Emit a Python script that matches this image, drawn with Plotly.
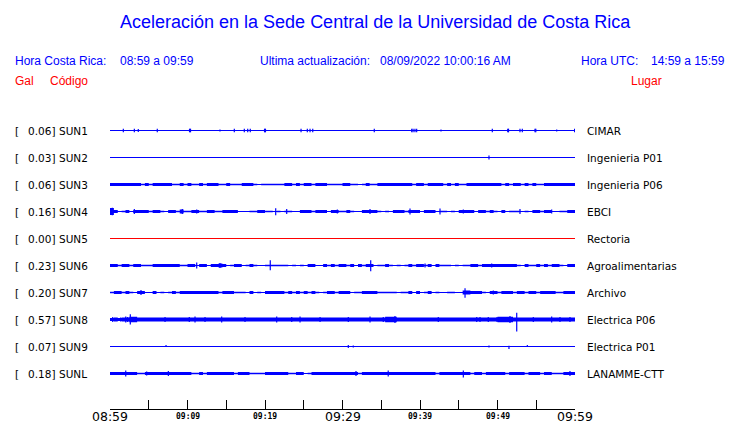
import plotly.graph_objects as go

# ---------------- text content ----------------
TITLE = "Aceleración en la Sede Central de la Universidad de Costa Rica"
HORA_CR_LABEL = "Hora Costa Rica:"
HORA_CR = "08:59 a 09:59"
UPDATE_LABEL = "Ultima actualización:"
UPDATE_VALUE = "08/09/2022 10:00:16 AM"
HORA_UTC_LABEL = "Hora UTC:"
HORA_UTC = "14:59 a 15:59"
COL_GAL = "Gal"
COL_CODE = "Código"
COL_PLACE = "Lugar"

CODES = ["SUN1", "SUN2", "SUN3", "SUN4", "SUN5", "SUN6", "SUN7", "SUN8", "SUN9", "SUNL"]
PLACES = ["CIMAR", "Ingenieria P01", "Ingenieria P06", "EBCI", "Rectoria",
          "Agroalimentarias", "Archivo", "Electrica P06", "Electrica P01", "LANAMME-CTT"]
PEAKS = ["0.06", "0.03", "0.06", "0.16", "0.00", "0.23", "0.20", "0.57", "0.07", "0.18"]
INACTIVE = ["SUN5"]

# x axis: minutes after 08:59
TICK_MINUTES = [0, 10, 20, 30, 40, 50, 60]
TICK_LABELS = ["08:59", "09:09", "09:19", "09:29", "09:39", "09:49", "09:59"]
MAJOR_LABELS = ["08:59", "09:29", "09:59"]
MINOR_TICK_STEP = 5
WINDOW_MIN = 60

# ---------------- signal envelopes (30 s bins, amplitude units) ----------------
BIN_MIN = 0.5
ENV_SUN3 = [2,2,2,2,2,2,2,2,1,2, 1,2,2,2,2,2,1,1,2,1, 2,1,1,2,1,2,2,2,1,1,
            2,1,1,1,2,2,2,1,0,1, 1,1,1,1,1,2,2,1,2,1, 2,2,1,2,2,2,1,1,1,1,
            2, 2,1,1,0,1,2,1,1,2, 2,2,2,2,2,2,2,2,1,2, 2,1,2,2,2,2,1,2,1,2,
            1,1,2,2,2,2,2,2,2,2, 2,1,2,1,2,2,1,2,1,2, 1,1,2,2,2,2,2,2,2,2]
ENV_SUN4 = [5,2,0,1,2,0,2,2,2,2, 1,2,2,1,0,2,2,1,3,1, 1,2,2,1,1,2,2,1,1,2,
            2,2,2,0,0,0,1,1,2,2, 1,1,0,1,0,1,1,0,0,2, 2,2,1,2,2,2,0,2,2,1,
            1, 2,1,0,0,2,2,2,2,1, 0,1,0,2,2,2,1,2,2,2, 0,2,2,2,0,1,1,0,1,0,
            2,2,2,2,0,2,2,1,2,1, 0,2,0,1,1,1,0,1,0,2, 2,1,2,2,0,0,1,1,2,2]
ENV_SUN6 = [2,2,1,2,2,1,2,2,1,1, 1,2,2,2,2,2,2,2,1,1, 2,2,0,2,2,0,2,2,3,2,
            0,1,2,2,0,1,2,1,0,0, 1,1,1,1,1,1,0,1,0,1, 0,2,2,0,0,2,1,2,1,2,
            2, 1,2,0,2,1,2,2,0,1, 1,2,1,0,1,0,1,2,1,2, 2,1,2,0,2,1,1,1,0,1,
            0,1,1,2,2,1,2,2,2,2, 2,2,2,2,2,1,0,2,1,1, 2,1,2,1,2,2,1,0,2,2]
ENV_SUN7 = [1,2,2,1,2,1,0,2,2,0, 0,2,0,1,0,1,2,1,2,2, 2,2,2,2,2,2,2,2,1,2,
            2,2,1,1,1,0,2,0,1,0, 2,2,2,2,2,1,2,1,2,1, 2,1,2,1,0,1,2,2,1,2,
            2, 2,0,1,1,2,2,2,2,1, 1,1,1,1,0,1,1,2,0,2, 0,1,2,0,1,0,0,1,1,0,
            0,3,3,2,2,2,1,0,2,2, 1,2,2,2,1,2,2,1,2,2, 1,2,2,2,2,1,1,2,2,2]
ENV_SUN8 = [2,3,2,3,3,4,4,3,3,3, 3,3,3,3,3,3,3,3,3,3, 3,3,3,3,3,3,3,3,3,3,
            3,3,3,3,3,3,3,3,3,3, 3,3,3,3,3,3,3,3,3,3, 3,3,3,3,3,3,3,3,3,3,
            3, 3,3,3,3,3,3,3,3,3, 3,4,4,4,3,3,3,3,3,3, 3,3,3,3,3,3,3,3,3,3,
            3,3,3,3,3,3,3,3,3,3, 4,4,4,4,3,3,3,3,3,3, 3,3,3,3,3,3,3,3,3,3]
ENV_SUNL = [2,2,2,2,2,2,2,1,1,2, 2,2,2,2,2,2,2,2,2,2, 2,1,1,2,1,2,2,2,2,2,
            2,2,1,2,2,2,1,1,1,1, 2,2,2,2,2,2,1,1,2,2, 0,1,2,2,2,2,2,2,2,2,
            2, 2,2,2,1,2,2,2,2,2, 2,2,2,2,2,2,2,2,2,2, 2,2,2,2,1,2,2,2,2,2,
            2,2,2,1,2,2,1,2,2,2, 2,2,1,2,2,2,2,1,2,2, 2,1,2,2,1,1,1,2,2,2]

# ---------------- isolated peaks: (minute, up, down) in amplitude units ----------------
SPIKES_SUN1 = [(1.72, 2.4, 2.4), (3.14, 2.4, 2.4), (3.65, 2.0, 2.0), (6.10, 2.4, 2.4),
               (10.26, 2.6, 2.6), (10.39, 2.6, 2.6), (14.19, 1.4, 1.4), (16.04, 2.4, 2.4),
               (17.33, 2.4, 2.4), (17.77, 2.4, 2.4), (18.10, 2.4, 2.4), (19.94, 2.6, 2.6),
               (20.06, 2.6, 2.6), (24.65, 2.4, 2.4), (25.46, 2.4, 2.4), (25.81, 2.4, 2.4),
               (26.16, 2.4, 2.4), (34.10, 2.4, 2.4), (38.93, 2.4, 2.4), (39.10, 2.4, 2.4),
               (39.35, 2.4, 2.4), (39.57, 2.4, 2.4), (42.71, 1.4, 1.4), (49.33, 2.4, 2.4),
               (51.32, 2.6, 2.6), (51.42, 2.6, 2.6), (52.90, 2.4, 2.4), (53.20, 2.4, 2.4),
               (54.84, 2.6, 2.6), (54.94, 2.6, 2.6), (57.64, 1.4, 1.4), (59.95, 2.4, 2.4)]
SPIKES_SUN2 = [(48.90, 3.0, 3.0)]
SPIKES_SUN3 = []
SPIKES_SUN4 = [(0.3, 5.5, 5.5), (3.14, 3.5, 3.5), (9.33, 3.5, 3.5), (11.19, 3.0, 3.0),
               (21.38, 4.5, 5.5), (22.80, 3.5, 3.5), (29.33, 3.0, 3.0), (33.55, 3.5, 3.5),
               (38.71, 4.3, 4.3), (42.58, 4.3, 4.3), (45.59, 3.0, 3.0), (52.90, 3.5, 3.5),
               (56.99, 3.0, 3.0)]
SPIKES_SUN5 = []
SPIKES_SUN6 = [(11.19, 4.3, 4.3), (14.19, 3.5, 3.5), (20.68, 7.6, 6.7), (33.64, 7.6, 8.1),
               (40.65, 3.0, 3.0), (49.25, 3.0, 3.0)]
SPIKES_SUN7 = [(4.00, 3.5, 3.5), (45.81, 6.2, 7.6), (49.46, 3.0, 3.0)]
SPIKES_SUN8 = [(0.35, 3.5, 3.5), (1.38, 3.0, 3.0), (2.03, 4.3, 4.3), (2.28, 3.5, 3.5),
               (2.62, 7.6, 7.1), (7.10, 3.5, 3.5), (10.23, 3.5, 3.5), (10.97, 4.3, 4.3),
               (12.26, 3.5, 3.5), (14.41, 4.3, 4.3), (17.42, 3.5, 3.5), (21.51, 4.3, 4.3),
               (23.45, 3.5, 3.5), (24.52, 4.3, 4.3), (27.10, 3.5, 3.5), (30.75, 3.5, 3.5),
               (33.55, 4.3, 4.3), (35.26, 3.5, 3.5), (36.13, 3.5, 3.5), (36.77, 5.0, 5.0),
               (42.36, 3.5, 3.5), (47.32, 3.5, 3.5), (47.74, 3.5, 3.5), (48.81, 3.5, 3.5),
               (49.94, 3.5, 3.5), (51.61, 5.0, 5.0), (52.48, 9.5, 17.0), (54.62, 3.5, 3.5),
               (56.99, 4.3, 4.3), (58.06, 3.5, 3.5), (59.35, 3.5, 3.5)]
SPIKES_SUN9 = [(7.23, 2.0, 0.0), (30.75, 2.0, 2.0), (31.39, 1.5, 1.5), (48.90, 1.5, 1.5),
               (51.48, 1.0, 3.5), (53.85, 2.0, 0.0)]
SPIKES_SUNL = [(2.03, 4.3, 4.3), (4.73, 3.0, 3.0), (7.53, 3.5, 3.5), (31.74, 3.5, 3.5),
               (35.90, 4.3, 4.3), (45.59, 4.3, 5.7), (59.35, 3.5, 3.5)]

ENVELOPES = {"SUN3": ENV_SUN3, "SUN4": ENV_SUN4, "SUN6": ENV_SUN6,
             "SUN7": ENV_SUN7, "SUN8": ENV_SUN8, "SUNL": ENV_SUNL}
SPIKES = {"SUN1": SPIKES_SUN1, "SUN2": SPIKES_SUN2, "SUN3": SPIKES_SUN3, "SUN4": SPIKES_SUN4,
          "SUN5": SPIKES_SUN5, "SUN6": SPIKES_SUN6, "SUN7": SPIKES_SUN7, "SUN8": SPIKES_SUN8,
          "SUN9": SPIKES_SUN9, "SUNL": SPIKES_SUNL}

# ---------------- layout geometry ----------------
W, H = 740, 423
PLOT_L, PLOT_R, PLOT_T, PLOT_B = 110, 575, 100, 409
ROW_PX = 27.0
AMP_PX = 0.7                      # screen px per amplitude unit
UNIT = AMP_PX / ROW_PX            # amplitude unit in row units
Y_TOP = -(130.5 - PLOT_T) / ROW_PX
Y_BOT = Y_TOP + (PLOT_B - PLOT_T) / ROW_PX

BLUE = "#0000ff"
RED = "#ff0000"
HEAD_FONT = "Liberation Sans, Arial, sans-serif"
LBL_FONT = "DejaVu Sans, sans-serif"


def px_x(px):
    return (px - PLOT_L) / (PLOT_R - PLOT_L)


def px_y(py):
    return (PLOT_B - py) / (PLOT_B - PLOT_T)


fig = go.Figure()

for i, code in enumerate(CODES):
    color = RED if code in INACTIVE else BLUE
    # baseline
    fig.add_trace(go.Scatter(x=[0, WINDOW_MIN], y=[i, i], mode="lines",
                             line=dict(color=color, width=1), hoverinfo="skip"))
    env = ENVELOPES.get(code)
    if env:
        xs, ys = [], []
        for k, a in enumerate(env):
            x0 = k * BIN_MIN
            h = a * UNIT
            xs += [x0, x0 + BIN_MIN]
            ys += [i - h, i - h]
        for k in range(len(env) - 1, -1, -1):
            x0 = k * BIN_MIN
            h = env[k] * UNIT
            xs += [x0 + BIN_MIN, x0]
            ys += [i + h, i + h]
        xs.append(xs[0])
        ys.append(ys[0])
        fig.add_trace(go.Scatter(x=xs, y=ys, mode="lines", fill="toself",
                                 fillcolor=color,
                                 line=dict(color=color, width=0, simplify=False),
                                 hoverinfo="skip"))
    sp = SPIKES.get(code, [])
    if sp:
        xs, ys = [], []
        for t, up, dn in sp:
            xs += [t, t, None]
            ys += [i - up * UNIT, i + dn * UNIT, None]
        fig.add_trace(go.Scatter(x=xs, y=ys, mode="lines",
                                 line=dict(color=color, width=1.2, simplify=False),
                                 hoverinfo="skip"))

ann = []


def add_text(text, x, y, color, size, family, xanchor="left", xref="paper", yref="paper"):
    ann.append(dict(text=text, x=x, y=y, xref=xref, yref=yref, xanchor=xanchor,
                    yanchor="middle", showarrow=False, borderpad=0, borderwidth=0,
                    font=dict(color=color, size=size, family=family)))


# title and header
add_text(TITLE, px_x(375), px_y(22), BLUE, 18, HEAD_FONT, xanchor="center")
add_text(HORA_CR_LABEL, px_x(15), px_y(61), BLUE, 12, HEAD_FONT)
add_text(HORA_CR, px_x(120), px_y(61), BLUE, 12, HEAD_FONT)
add_text(UPDATE_LABEL, px_x(260), px_y(61), BLUE, 12, HEAD_FONT)
add_text(UPDATE_VALUE, px_x(380), px_y(61), BLUE, 12, HEAD_FONT)
add_text(HORA_UTC_LABEL, px_x(580.5), px_y(61), BLUE, 12, HEAD_FONT)
add_text(HORA_UTC, px_x(651), px_y(61), BLUE, 12, HEAD_FONT)
add_text(COL_GAL, px_x(15), px_y(81), RED, 12, HEAD_FONT)
add_text(COL_CODE, px_x(50), px_y(81), RED, 12, HEAD_FONT)
add_text(COL_PLACE, px_x(630.5), px_y(81), RED, 12, HEAD_FONT)

# row labels
for i, code in enumerate(CODES):
    add_text("[", px_x(15), i, "black", 10.5, LBL_FONT, yref="y")
    add_text(PEAKS[i] + "]", px_x(55), i, "black", 10.5, LBL_FONT, xanchor="right", yref="y")
    add_text(code, px_x(59), i, "black", 10.5, LBL_FONT, yref="y")
    add_text(PLACES[i], px_x(587), i, "black", 10.5, LBL_FONT, yref="y")

# time labels
for t, lab in zip(TICK_MINUTES, TICK_LABELS):
    if lab in MAJOR_LABELS:
        ann.append(dict(text=lab, x=t, y=0, xref="x", yref="paper", xanchor="center",
                        yanchor="middle", yshift=-7.5, showarrow=False, borderpad=0,
                        borderwidth=0, font=dict(color="black", size=12.5, family=LBL_FONT)))
    else:
        ann.append(dict(text="<b>" + lab + "</b>", x=t, y=0, xref="x", yref="paper",
                        xanchor="center", yanchor="middle", yshift=-7, showarrow=False,
                        borderpad=0, borderwidth=0,
                        font=dict(color="black", size=8, family="DejaVu Sans Mono, monospace")))

fig.update_layout(
    width=W, height=H,
    margin=dict(l=PLOT_L, r=W - PLOT_R, t=PLOT_T, b=H - PLOT_B, pad=0, autoexpand=False),
    paper_bgcolor="white", plot_bgcolor="white",
    showlegend=False, hovermode=False,
    annotations=ann,
    xaxis=dict(range=[0, WINDOW_MIN], showgrid=False, zeroline=False, showline=True,
               linecolor="black", linewidth=1, ticks="inside", ticklen=9, tickwidth=1,
               tickcolor="black", tick0=0, dtick=MINOR_TICK_STEP, showticklabels=False,
               fixedrange=True),
    yaxis=dict(range=[Y_BOT, Y_TOP], visible=False, showgrid=False, zeroline=False,
               fixedrange=True),
)

fig.write_html("out.html", config={"displayModeBar": False},
               post_script="document.body.style.margin='0px';document.body.style.overflow='hidden';")
